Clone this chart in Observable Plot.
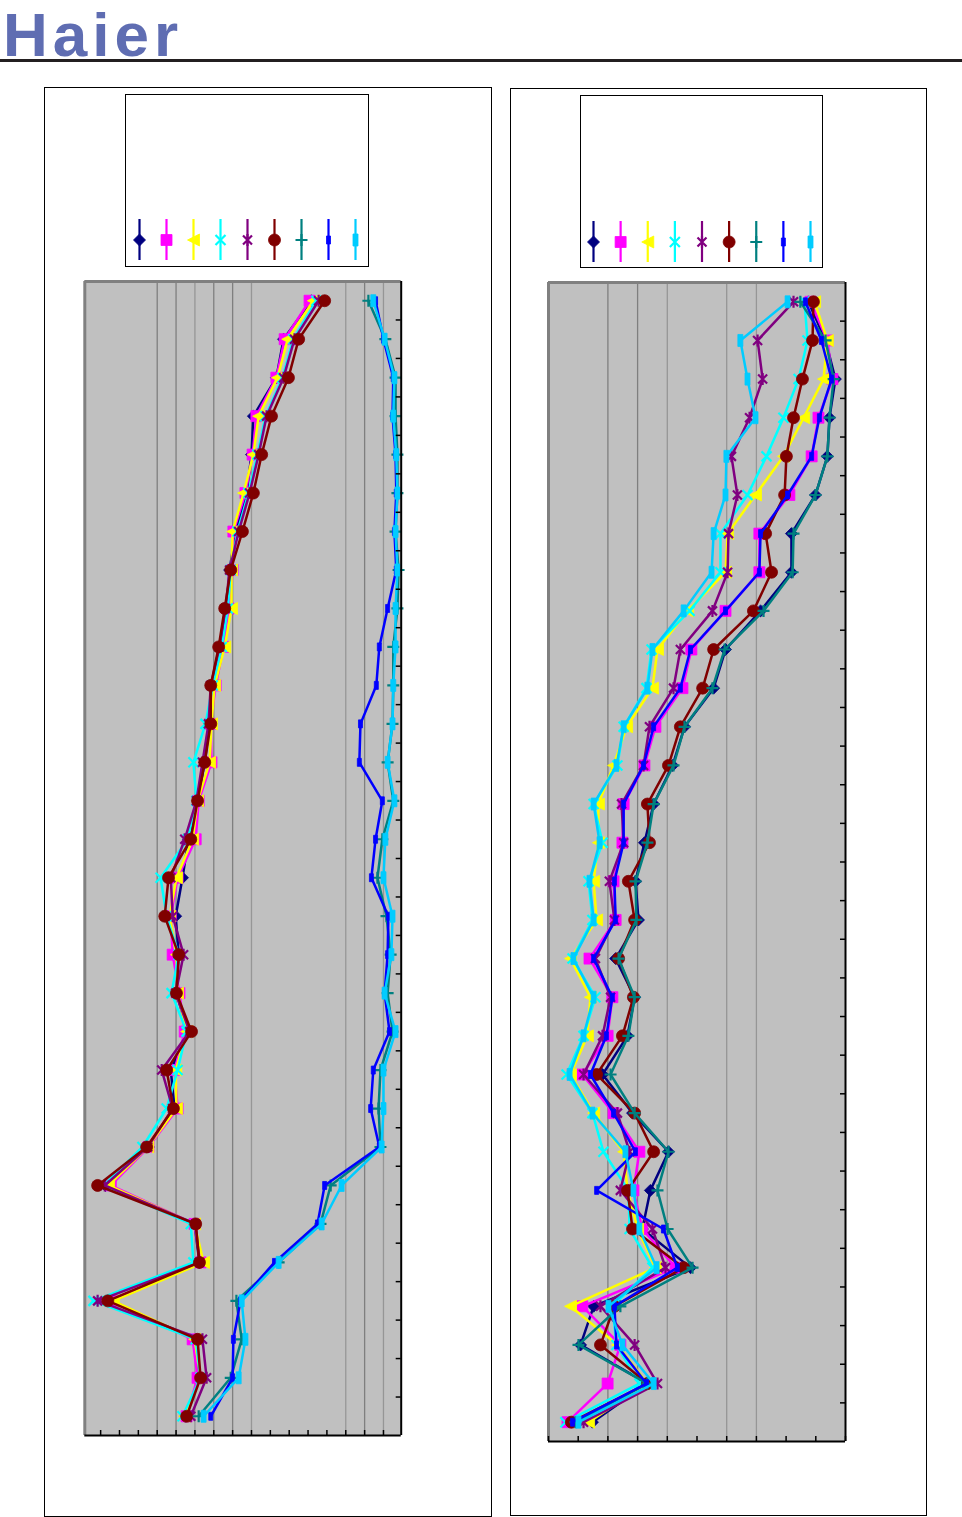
<!DOCTYPE html>
<html><head><meta charset="utf-8">
<script src="https://cdn.jsdelivr.net/npm/d3@7"></script>
<script src="https://cdn.jsdelivr.net/npm/@observablehq/plot@0.6"></script>
<style>
body{margin:0;background:#fff;width:962px;height:1517px;position:relative;overflow:hidden;font-family:"Liberation Sans",Arial,sans-serif}
.abs{position:absolute;box-sizing:border-box}
</style></head><body>
<div class="abs" style="left:3px;top:0;font-family:'Liberation Sans',Arial,sans-serif;font-weight:bold;font-size:62px;line-height:70px;letter-spacing:5px;color:#5f6db2;white-space:nowrap">Haier</div>
<div class="abs" style="left:0;top:59px;width:962px;height:3px;background:#231f20"></div>
<div class="abs" style="left:44px;top:87px;width:448px;height:1430px;border:1px solid #000"></div>
<div class="abs" style="left:510px;top:88px;width:417px;height:1428px;border:1px solid #000"></div>
<div class="abs" id="legL" style="left:125px;top:94px;width:244px;height:173px;border:1px solid #000;background:#fff"></div>
<div class="abs" id="legR" style="left:580px;top:95px;width:243px;height:173px;border:1px solid #000;background:#fff"></div>
<script>
// ---- data ----
const rows = d3.range(1, 31); // 30 bands, top to bottom

// left chart, series 1..9
const leftS1 = [55.9,48.5,46.6,40.5,40.0,38.7,35.8,34.2,33.4,31.8,29.4,28.9,27.6,25.7,23.3,21.7,19.9,20.7,20.1,23.1,18.6,19.6,12.7,1.3,24.9,26.2,2.4,25.4,26.2,22.5];
const leftS2 = [55.4,48.8,46.6,41.3,40.3,38.4,35.2,35.0,33.9,32.6,30.5,29.2,29.4,26.0,25.2,20.4,18.6,19.1,20.9,22.3,19.6,20.4,12.7,2.7,24.9,26.5,3.2,24.4,25.7,22.8];
const leftS3 = [56.4,49.6,46.9,41.9,40.5,37.9,35.0,34.7,34.7,32.9,30.2,29.4,28.9,25.7,24.4,20.1,18.3,20.1,20.4,22.8,19.9,20.1,12.5,2.1,24.9,27.3,3.4,24.9,26.5,22.3];
const leftS4 = [57.2,51.1,48.2,43.7,41.6,39.2,36.3,34.5,33.7,32.1,29.7,27.8,24.6,25.4,23.1,15.9,17.5,20.7,18.8,22.8,20.4,17.5,11.1,0.8,23.9,24.6,-1.9,25.2,26.5,21.7];
const leftS5 = [57.8,51.4,48.5,44.0,41.9,39.5,36.6,34.2,33.1,31.5,29.2,28.6,27.0,25.4,22.3,18.6,19.1,22.0,19.9,23.6,16.2,19.1,12.5,1.1,25.2,26.2,-0.8,27.0,28.1,23.9];
const leftS6 = [59.4,52.5,49.8,45.3,42.7,40.5,37.6,34.5,32.9,31.3,29.2,29.2,27.6,25.7,23.9,18.0,17.0,20.7,20.1,24.1,17.5,19.3,12.2,-0.8,25.2,26.2,1.9,25.7,26.5,22.8];
const leftS7 = [71.0,75.5,78.2,78.2,78.7,78.7,78.2,79.0,78.7,77.6,77.6,77.4,76.1,77.6,74.7,73.4,75.8,76.9,76.1,77.4,74.2,73.7,74.2,61.0,58.3,47.2,36.0,37.4,34.5,26.0];
const leftS8 = [72.9,75.0,77.6,77.4,78.2,78.4,77.9,78.4,76.1,73.9,73.1,68.9,68.6,74.7,72.9,71.8,76.3,76.1,75.3,76.6,72.3,71.6,73.9,59.4,57.5,46.1,37.1,35.2,35.0,29.2];
const leftS9 = [72.3,75.3,77.9,77.6,78.4,78.7,78.2,78.7,78.2,78.2,77.6,77.4,76.1,77.9,75.5,75.0,77.4,77.1,75.3,78.2,75.0,75.0,74.5,63.9,58.6,47.2,37.4,38.4,36.6,27.3];

// right chart, series 1..9
const rightS1 = [87.5,93.3,96.6,94.6,93.9,89.9,81.8,81.8,71.4,59.6,55.6,45.8,41.8,35.4,32.3,29.3,30.3,22.6,29.0,26.6,18.2,28.3,40.4,34.3,31.6,47.8,15.2,10.8,33.3,14.8];
const rightS2 = [88.2,93.9,95.6,90.9,88.6,81.1,71.0,71.0,59.6,48.1,45.1,36.0,32.3,25.3,24.9,21.9,22.6,13.8,21.5,19.9,11.4,21.9,30.6,28.6,31.6,42.8,11.4,24.2,19.9,6.4];
const rightS3 = [89.6,93.9,92.6,85.9,79.1,69.7,60.3,59.6,46.8,36.7,35.0,26.3,21.9,16.8,16.8,15.2,16.2,7.4,14.1,13.1,7.4,15.2,25.3,26.6,30.0,36.0,7.4,23.2,33.3,13.5];
const rightS4 = [86.2,87.2,84.2,79.1,73.4,67.0,57.9,57.9,47.5,34.7,33.0,25.3,23.2,15.2,18.2,13.5,14.8,8.1,15.8,11.8,6.1,14.8,18.5,26.9,27.3,35.0,21.5,22.9,30.6,5.7];
const rightS5 = [82.5,70.4,72.1,67.7,61.6,63.6,60.6,60.3,55.2,44.4,42.1,34.0,32.0,24.6,25.3,20.5,22.2,15.8,20.9,18.2,11.8,23.2,27.3,24.2,35.0,39.4,17.5,29.0,36.7,11.8];
const rightS6 = [89.2,88.9,85.5,82.5,80.1,79.5,73.1,75.1,69.0,55.6,51.9,44.4,40.4,33.3,34.0,26.9,29.0,23.6,28.6,24.9,16.2,29.0,35.4,26.6,28.3,45.5,22.2,17.5,33.3,7.7];
const rightS7 = [84.8,93.3,96.0,94.6,93.9,89.9,82.5,82.2,72.4,59.3,55.2,45.8,42.1,35.4,33.3,29.3,29.6,23.6,29.0,26.9,20.9,29.0,40.4,36.7,40.1,48.5,24.2,10.1,33.3,9.1];
const rightS8 = [86.5,91.9,95.3,91.2,88.6,80.5,71.4,71.0,59.6,47.8,44.4,35.4,32.0,25.3,25.3,22.2,22.6,15.2,21.5,19.5,14.1,21.9,29.3,16.2,38.7,43.4,22.2,22.9,33.0,8.1];
const rightS9 = [80.5,64.6,67.0,69.7,59.9,59.6,55.6,54.9,45.5,35.0,33.3,25.3,22.9,15.2,17.2,13.8,15.2,8.4,15.2,11.8,7.1,14.8,25.9,28.6,30.6,36.4,20.2,24.9,35.4,10.1];

// axes
const leftXDomain = [-4.2, 79.7];
const leftXTicks = d3.range(0, 80, 5);
const leftGridDark = [15, 20, 30, 35, 70];
const leftGridLight = [25, 40, 65, 75];
const rightXDomain = [0, 100];
const rightXTicks = d3.range(0, 101, 10);
const rightGridDark = [20, 30];
const rightGridLight = [40, 60, 70];
const yTicks = d3.range(1, 30);

// ---- styles ----
const colors = ["#000080","#ff00ff","#ffff00","#00ffff","#800080","#800000","#008080","#0000ff","#00ccff"];
const P = f => ({draw(c) { f(c); }});
const markers = [
  {sym: P(c => {c.moveTo(0,-6);c.lineTo(6,0);c.lineTo(0,6);c.lineTo(-6,0);c.closePath();}), filled: true},
  {sym: P(c => {c.rect(-5.5,-5.5,11,11);}), filled: true},
  {sym: P(c => {c.moveTo(-6,0);c.lineTo(6,-6);c.lineTo(6,6);c.closePath();}), filled: true},
  {sym: P(c => {c.moveTo(-5,-5);c.lineTo(5,5);c.moveTo(5,-5);c.lineTo(-5,5);}), filled: false},
  {sym: P(c => {c.moveTo(-4.5,-4.5);c.lineTo(4.5,4.5);c.moveTo(4.5,-4.5);c.lineTo(-4.5,4.5);c.moveTo(0,-6);c.lineTo(0,6);}), filled: false},
  {sym: P(c => {c.moveTo(6,0);c.arc(0,0,6,0,2*Math.PI);}), filled: true},
  {sym: P(c => {c.moveTo(-6,0);c.lineTo(6,0);c.moveTo(0,-6);c.lineTo(0,6);}), filled: false},
  {sym: P(c => {c.rect(-2,-4,4,8);}), filled: true},
  {sym: P(c => {c.rect(-2.5,-6,5,12);}), filled: true}
];

function place(svg, left, top) {
  svg.style.position = "absolute";
  svg.style.left = left + "px";
  svg.style.top = top + "px";
  svg.style.background = "transparent";
  svg.style.overflow = "visible";
  svg.style.maxWidth = "none";
  document.body.appendChild(svg);
}

function panel({series, xDomain, xTicks, gridDark, gridLight, left, top, width, height, ml, mr}) {
  const mt = 5, mb = 5;
  const pxX = (xDomain[1] - xDomain[0]) / (width - ml - mr);
  const pxY = 30 / (height - mt - mb);
  const marks = [
    Plot.frame({fill: "#c0c0c0", stroke: "none"}),
    Plot.ruleX(gridDark, {x: d => d, stroke: "#7f7f7f", strokeWidth: 1.3}),
    Plot.ruleX(gridLight, {x: d => d, stroke: "#969696", strokeWidth: 1.3})
  ];
  series.forEach((arr, k) => {
    const data = rows.map((r, i) => ({y: r - 0.5, x: arr[i]}));
    marks.push(Plot.line(data, {x: "x", y: "y", stroke: colors[k], strokeWidth: 2.5, strokeLinejoin: "round"}));
    const m = markers[k];
    marks.push(Plot.dot(data, {x: "x", y: "y", symbol: m.sym, r: 5,
      fill: m.filled ? colors[k] : "none", stroke: colors[k], strokeWidth: m.filled ? 0.8 : 2.2}));
  });
  marks.push(
    Plot.ruleX([xDomain[0]], {x: d => d, stroke: "#808080", strokeWidth: 3}),
    Plot.ruleY([0], {y: d => d, stroke: "#808080", strokeWidth: 3}),
    Plot.ruleY(yTicks, {y: d => d, x1: () => xDomain[1] - 5 * pxX, x2: () => xDomain[1], stroke: "#000", strokeWidth: 1.5}),
    Plot.ruleX(xTicks, {x: d => d, y1: () => 30, y2: () => 30 - 5 * pxY, stroke: "#000", strokeWidth: 1.5}),
    Plot.ruleX([xDomain[1]], {x: d => d, stroke: "#000", strokeWidth: 2}),
    Plot.ruleY([30], {y: d => d, stroke: "#000", strokeWidth: 2})
  );
  const svg = Plot.plot({
    width, height, marginLeft: ml, marginRight: mr, marginTop: mt, marginBottom: mb,
    x: {domain: xDomain, axis: null},
    y: {domain: [0, 30], reverse: true, axis: null},
    marks
  });
  place(svg, left, top);
}

function legend(id, w, h, ml, mr, mt, mb) {
  const idx = d3.range(9);
  const marks = [];
  idx.forEach(k => {
    const m = markers[k];
    marks.push(Plot.ruleX([k], {x: d => d, y1: () => 0, y2: () => 1, stroke: colors[k], strokeWidth: 2.2}));
    marks.push(Plot.dot([k], {x: d => d, y: () => 0.5, symbol: m.sym, r: 5,
      fill: m.filled ? colors[k] : "none", stroke: colors[k], strokeWidth: m.filled ? 0.8 : 2.2}));
  });
  const svg = Plot.plot({
    width: w, height: h, marginLeft: ml, marginRight: mr, marginTop: mt, marginBottom: mb,
    x: {domain: [0, 8], axis: null}, y: {domain: [0, 1], axis: null}, marks
  });
  svg.style.background = "transparent";
  svg.style.maxWidth = "none";
  svg.style.display = "block";
  svg.style.margin = "-1px 0 0 -1px";
  document.getElementById(id).appendChild(svg);
}

panel({series: [leftS1,leftS2,leftS3,leftS4,leftS5,leftS6,leftS7,leftS8,leftS9],
  xDomain: leftXDomain, xTicks: leftXTicks, gridDark: leftGridDark, gridLight: leftGridLight,
  left: 80, top: 276, width: 326, height: 1164, ml: 4.3, mr: 5.3});
panel({series: [rightS1,rightS2,rightS3,rightS4,rightS5,rightS6,rightS7,rightS8,rightS9],
  xDomain: rightXDomain, xTicks: rightXTicks, gridDark: rightGridDark, gridLight: rightGridLight,
  left: 543, top: 277, width: 307, height: 1169, ml: 5, mr: 5});
legend("legL", 244, 173, 14, 14, 125, 7);
legend("legR", 243, 173, 13, 13, 126, 6);
</script>
</body></html>
